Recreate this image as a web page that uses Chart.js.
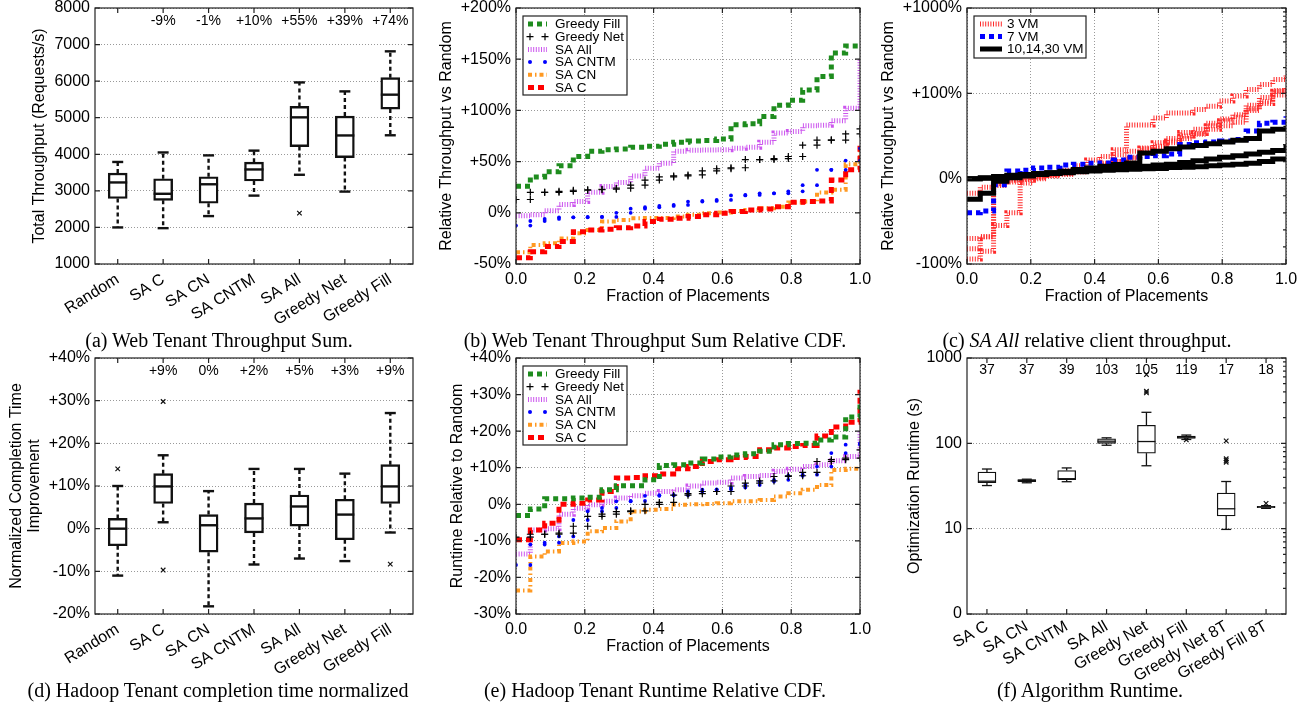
<!DOCTYPE html>
<html>
<head>
<meta charset="utf-8">
<script src="https://cdn.jsdelivr.net/npm/chart.js@4.4.1/dist/chart.umd.min.js"></script>
<style>
  html, body { margin: 0; padding: 0; background: #fff; }
  #fig { position: relative; width: 1308px; height: 704px; overflow: hidden; }
  canvas { position: absolute; }
  .cap { position: absolute; transform: translate(-50%, -50%); white-space: nowrap;
         font: 20px "Liberation Serif", "Times New Roman", serif; color: #000; }
</style>
</head>
<body>
<div id="fig">
  <canvas id="webBox" width="436" height="330" style="left:0;top:0"></canvas>
  <canvas id="webCdf" width="442" height="330" style="left:436px;top:0"></canvas>
  <canvas id="clientCdf" width="430" height="330" style="left:878px;top:0"></canvas>
  <canvas id="hadoopBox" width="436" height="330" style="left:0;top:350px"></canvas>
  <canvas id="hadoopCdf" width="442" height="330" style="left:436px;top:350px"></canvas>
  <canvas id="algoBox" width="430" height="330" style="left:878px;top:350px"></canvas>
  <div class="cap" style="left:219px;top:340px">(a) Web Tenant Throughput Sum.</div>
  <div class="cap" style="left:655px;top:340px">(b) Web Tenant Throughput Sum Relative CDF.</div>
  <div class="cap" style="left:1087px;top:340px">(c) <i>SA All</i> relative client throughput.</div>
  <div class="cap" style="left:218px;top:690px">(d) Hadoop Tenant completion time normalized</div>
  <div class="cap" style="left:655px;top:690px">(e) Hadoop Tenant Runtime Relative CDF.</div>
  <div class="cap" style="left:1090px;top:690px">(f) Algorithm Runtime.</div>
</div>
<script>
// --- (a) web tenant throughput sum (box stats per placement method) ---
const methods = ['Random', 'SA C', 'SA CN', 'SA CNTM', 'SA All', 'Greedy Net', 'Greedy Fill'];
const webMin = [2000, 1980, 2310, 2870, 3440, 2980, 4520];
const webQ1 = [2790, 2740, 2660, 3270, 4210, 3910, 5235];
const webMed = [3230, 2920, 3180, 3585, 5010, 4515, 5630];
const webQ3 = [3485, 3330, 3385, 3785, 5310, 5045, 6095];
const webMax = [3790, 4050, 3970, 4100, 5965, 5720, 6815];
const webOutliers = [{ x: 'SA All', y: 2390 }];
const webGain = ['', '-9%', '-1%', '+10%', '+55%', '+39%', '+74%'];

// --- (d) hadoop completion time improvement (%) ---
const hadMin = [-11, 1.5, -18.2, -8.4, -7, -7.6, -0.9];
const hadQ1 = [-4, 5.9, -5.5, -1, 0.6, -2.6, 5.9];
const hadMed = [0, 9.9, 0.8, 2.4, 5.2, 3.3, 9.9];
const hadQ3 = [2.4, 12.9, 3.3, 6, 7.9, 6.9, 15];
const hadMax = [10, 17.2, 8.8, 14, 14, 12.9, 27.1];
const hadOutliers = [{ x: 'Random', y: 14 }, { x: 'SA C', y: 29.8 }, { x: 'SA C', y: -9.7 }, { x: 'Greedy Fill', y: -8.3 }];
const hadGain = ['', '+9%', '0%', '+2%', '+5%', '+3%', '+9%'];

// --- (f) optimization runtime (s) ---
const algos = ['SA C', 'SA CN', 'SA CNTM', 'SA All', 'Greedy Net', 'Greedy Fill', 'Greedy Net 8T', 'Greedy Fill 8T'];
const rtMin = [32, 34.5, 35.5, 95, 54.6, 111, 9.8, 17.3];
const rtQ1 = [34.5, 35.5, 37.4, 100, 76.8, 114, 14.1, 17.6];
const rtMed = [36, 36.8, 38.5, 106, 105, 118, 17.1, 18];
const rtQ3 = [46, 37.5, 48, 113, 163, 122, 26.1, 18.3];
const rtMax = [50, 38, 51.5, 116, 231, 125, 35.7, 18.6];
const rtOutliers = [
  { x: 'Greedy Net', y: 390 }, { x: 'Greedy Net', y: 408 }, { x: 'Greedy Net', y: 640 },
  { x: 'Greedy Fill', y: 110 },
  { x: 'Greedy Net 8T', y: 107 }, { x: 'Greedy Net 8T', y: 66 }, { x: 'Greedy Net 8T', y: 63 }, { x: 'Greedy Net 8T', y: 60 },
  { x: 'Greedy Fill 8T', y: 19.8 },
];
const rtMean = ['37', '37', '39', '103', '105', '119', '17', '18'];

// --- (b) web throughput vs random, sorted per placement (24 placements + end) ---
const webGreedyFill = [26, 35, 40, 46, 55, 60, 61.5, 62.4, 64, 65, 67, 69, 70, 70.6, 72, 86, 87, 94, 105, 110, 120, 133, 156, 163, 164];
const webGreedyNet = [13, 20, 20, 21, 22, 22.5, 23, 24, 27, 32, 35, 36, 37, 41, 43, 44, 52, 52, 53, 55, 66, 71, 71, 77, 82];
const webSaAll = [-3, -2, 2, 8, 11, 20, 25.6, 29.5, 36, 43.5, 48.5, 60, 61, 61.3, 61.5, 63, 64, 69, 78, 79.5, 85, 85.6, 90, 102, 150];
const webSaCntm = [-12.5, -8, -6, -4.4, -4.4, -4, -4, 0, 4, 5.4, 6.7, 7.7, 11, 11.6, 12.6, 17, 17.5, 19, 19, 21, 27, 42, 42, 51, 63];
const webSaCn = [-38.6, -31.4, -29.8, -25, -20, -16.7, -8.6, -7, -5.3, -5.2, -5, -3.7, -2, -0.5, 0.2, 1.8, 2.8, 4.4, 6, 10, 11, 19.8, 22.4, 47.5, 60];
const webSaC = [-43.8, -38, -33, -28, -18.4, -16.7, -16, -14.5, -12.8, -8.6, -6.3, -5.3, -3.7, -2, -0.5, 1.2, 2.8, 3.8, 6, 10.3, 11, 11.6, 32, 42, 68];

// --- (c) SA All per-client throughput vs random, by tenant size ---
const vm3a = [-94, -85, -3, 0, 1, 3, 4, 6, 8, 10, 14, 20, 25, 36, 42, 47, 54, 58, 62, 68, 72, 80, 90, 106, 118];
const vm3b = [-82, -68, -8, -4, -1, 1, 3, 5, 8, 12, 18, 28, 32, 35, 38, 44, 50, 53, 58, 62, 66, 86, 95, 108, 116];
const vm3c = [-70, -68, -55, -40, -5, 0, 5, 10, 15, 22, 26, 34, 63, 63, 71, 77, 77, 81, 85, 91, 97, 111, 127, 145, 166];
const vm3d = [-17, -10, -6, -2, 0, 2, 4, 6, 9, 12, 16, 20, 24, 30, 36, 42, 47, 52, 65, 70, 75, 82, 88, 98, 105];
const vm7 = [-40, -38, -7, 9, 10, 12.5, 13.5, 16, 17, 18, 18.5, 22, 25, 26, 27, 29, 40, 42, 43, 44, 46, 56, 65, 66, 73];
const vm10 = [-24, -17, -3, 1, 3, 5, 7, 8.6, 10.6, 12.5, 14.5, 16.5, 18.4, 30, 32, 35, 37, 39, 41, 43, 45, 47, 56, 58, 62];
const vm14 = [0, 1, 2.5, 4, 5, 6, 7, 8, 9, 10, 11, 12, 13, 14.5, 16, 17, 19, 21, 23, 25, 27, 29, 31, 33, 40];
const vm30 = [0, 0.5, 2, 3, 4, 5, 6, 7, 8, 9, 10, 10.5, 11, 11.5, 12, 13, 13.5, 14, 15, 16, 17, 18, 20, 23, 25];
const clientTicks = ['-100%', '0%', '+100%', '+1000%'];

// --- (e) hadoop runtime relative to random ---
const hadGreedyFill = [-3.1, -1.3, 1.5, 1.5, 1.7, 1.9, 4, 5.1, 5.1, 6.7, 10.6, 10.8, 11.3, 12.4, 12.9, 13.5, 13.8, 14.5, 16.3, 16.6, 16.7, 17.6, 18.4, 23.9, 27.7];
const hadGreedyNet = [-9, -8.2, -8.2, -7.9, -6, -3.3, -2.7, -2, -1.8, 0, 0.5, 2.5, 2.9, 3.5, 3.5, 5, 5.8, 6.4, 7.6, 7.8, 8.7, 11.7, 12.2, 12.6, 14.9];
const hadSaAll = [-13.6, -7, -6.7, -2.7, -1.1, -0.1, 0.8, 1.7, 2.3, 3, 3.5, 4, 5, 5.8, 6, 7.2, 7.6, 7.9, 9, 9.6, 10.3, 10.8, 11.9, 13.1, 20];
const hadSaCntm = [-16.6, -11, -10.5, -8.8, -4.3, -1.9, -1, 0.8, 0.9, 2.3, 2.5, 2.5, 3.5, 4, 4.1, 4.6, 5.3, 6.2, 6.7, 7.8, 8.1, 10.3, 14, 16.3, 16.7];
const hadSaCn = [-23.6, -14.3, -12.9, -10.6, -10.2, -7.4, -6.5, -4.7, -2, -1.5, -1.3, -0.1, 0, 0.1, 0.3, 0.8, 0.8, 1.2, 2.1, 3, 4, 5.3, 9.4, 9.7, 10];
const hadSaC = [-9.7, -7, -5.2, 0, 0.3, 1.2, 3.5, 7.2, 7.3, 7.8, 8.3, 9.7, 10.3, 11.7, 12.2, 12.8, 13.1, 14.9, 15.4, 15.8, 16.1, 18.7, 21.1, 22.4, 31.3];

const FONT = '"Liberation Sans", Arial, sans-serif';
Chart.defaults.font.family = FONT;
Chart.defaults.font.size = 16;
Chart.defaults.color = '#000';
Chart.defaults.animation = false;

const GRID = '#999';
const GREEN = '#1e8c1e', MAGENTA = '#cc55ee', BLUE = '#0000ff', ORANGE = '#ff9922', RED = '#ff0000';

const pct = (v) => (v > 0 ? '+' : '') + v + '%';
// step CDF points: value i holds from i/24 until (i+1)/24
const steps = (vals) => vals.map((v, i) => ({ x: i / 24, y: v }));
const corners = (vals) => vals.flatMap((v, i) => (i === 0 ? [{ x: 0, y: v }] : [{ x: i / 24, y: vals[i - 1] }, { x: i / 24, y: v }]));
// (c) axis: linear in [-100%, 100%], log10 above
const symlog = (v) => (v <= 100 ? v / 100 : 1 + Math.log10(v / 100));

// frame + inward tick marks (gnuplot look)
const framePlugin = {
  id: 'frame',
  afterDraw(chart, args, opts) {
    const { ctx, chartArea: a, scales: { x, y } } = chart;
    ctx.save();
    ctx.strokeStyle = '#222';
    ctx.lineWidth = 1.2;
    ctx.setLineDash([]);
    ctx.strokeRect(a.left, a.top, a.right - a.left, a.bottom - a.top);
    ctx.beginPath();
    x.ticks.forEach((t, i) => {
      const px = x.getPixelForTick(i);
      ctx.moveTo(px, a.bottom); ctx.lineTo(px, a.bottom - 5);
      ctx.moveTo(px, a.top); ctx.lineTo(px, a.top + 5);
    });
    y.ticks.forEach((t, i) => {
      const py = y.getPixelForTick(i);
      ctx.moveTo(a.left, py); ctx.lineTo(a.left + 5, py);
      ctx.moveTo(a.right, py); ctx.lineTo(a.right - 5, py);
    });
    (opts.minor || []).forEach((v) => {
      const py = y.getPixelForValue(v);
      ctx.moveTo(a.right, py); ctx.lineTo(a.right - 3, py);
    });
    ctx.stroke();
    ctx.restore();
  },
};

// whiskers, caps and medians for the floating-bar boxes
const whiskerPlugin = {
  id: 'whiskers',
  afterDatasetsDraw(chart, args, o) {
    if (!o.min) return;
    const { ctx, scales: { x, y } } = chart;
    ctx.save();
    ctx.strokeStyle = '#111';
    ctx.lineWidth = o.lw;
    const seg = (x1, y1, x2, y2) => { ctx.beginPath(); ctx.moveTo(x1, y1); ctx.lineTo(x2, y2); ctx.stroke(); };
    o.min.forEach((_, i) => {
      const cx = x.getPixelForValue(i);
      ctx.setLineDash(o.dash);
      seg(cx, y.getPixelForValue(o.q3[i]), cx, y.getPixelForValue(o.max[i]));
      seg(cx, y.getPixelForValue(o.q1[i]), cx, y.getPixelForValue(o.min[i]));
      ctx.setLineDash([]);
      seg(cx - o.cap / 2, y.getPixelForValue(o.max[i]), cx + o.cap / 2, y.getPixelForValue(o.max[i]));
      seg(cx - o.cap / 2, y.getPixelForValue(o.min[i]), cx + o.cap / 2, y.getPixelForValue(o.min[i]));
      seg(cx - o.box / 2, y.getPixelForValue(o.med[i]), cx + o.box / 2, y.getPixelForValue(o.med[i]));
    });
    ctx.restore();
    // per-method annotation row
    ctx.save();
    ctx.font = `14px ${FONT}`;
    ctx.fillStyle = '#000';
    ctx.textAlign = 'center';
    ctx.textBaseline = 'middle';
    o.notes.forEach((t, i) => ctx.fillText(t, x.getPixelForValue(i), chart.chartArea.top + o.noteDy));
    ctx.restore();
  },
};

// boxed legend inside the plot
const boxLegend = {
  id: 'boxLegend',
  afterDraw(chart, args, o) {
    if (!o.rows) return;
    const { ctx, chartArea: a } = chart;
    const bx = a.left + o.dx, by = a.top + o.dy;
    ctx.save();
    ctx.fillStyle = '#fff';
    ctx.fillRect(bx, by, o.w, o.h);
    ctx.strokeStyle = '#222';
    ctx.lineWidth = 1.2;
    ctx.strokeRect(bx, by, o.w, o.h);
    ctx.font = `13.5px ${FONT}`;
    ctx.textBaseline = 'middle';
    o.rows.forEach((r, i) => {
      const ry = by + o.row0 + i * o.step;
      const x1 = bx + o.sx1, x2 = bx + o.sx2;
      ctx.save();
      ctx.strokeStyle = r.color;
      ctx.fillStyle = r.color;
      if (r.mark === 'cross') {
        ctx.lineWidth = 1.2;
        [x1 + 2, x2 - 2].forEach((px) => {
          ctx.beginPath();
          ctx.moveTo(px - 3.5, ry); ctx.lineTo(px + 3.5, ry);
          ctx.moveTo(px, ry - 3.5); ctx.lineTo(px, ry + 3.5);
          ctx.stroke();
        });
      } else if (r.mark === 'dot') {
        [x1 + 2, x2 - 2].forEach((px) => { ctx.beginPath(); ctx.arc(px, ry, 2, 0, Math.PI * 2); ctx.fill(); });
      } else {
        ctx.lineWidth = r.width;
        ctx.setLineDash(r.dash || []);
        ctx.beginPath(); ctx.moveTo(x1, ry); ctx.lineTo(x2, ry); ctx.stroke();
      }
      ctx.restore();
      ctx.fillStyle = '#000';
      ctx.fillText(r.label, bx + o.tx, ry + 0.5);
    });
    ctx.restore();
  },
};

Chart.register(framePlugin, whiskerPlugin, boxLegend);

function yAxis(width, title, titlePad, extra) {
  return {
    position: 'left',
    grid: { color: GRID, drawTicks: false },
    border: { display: false, dash: [1, 2] },
    ticks: { padding: 5 },
    title: { display: true, text: title, padding: { top: titlePad, bottom: 0 } },
    afterFit(s) { s.width = width; s.paddingTop = 0; s.paddingBottom = 0; },
    ...extra,
  };
}

function xFraction() {
  return {
    type: 'linear', min: 0, max: 1,
    grid: { color: GRID, drawTicks: false },
    border: { display: false, dash: [1, 2] },
    ticks: { stepSize: 0.2, padding: 6, maxRotation: 0, callback: (v) => v.toFixed(1) },
    title: { display: true, text: 'Fraction of Placements', padding: { top: 0, bottom: 24 } },
    afterFit(s) { s.height = 66; s.paddingLeft = 0; s.paddingRight = 0; },
  };
}

function xCategory(rot, pad) {
  return {
    type: 'category',
    grid: { display: false, drawTicks: false },
    border: { display: false },
    ticks: { padding: pad, minRotation: rot, maxRotation: rot, autoSkip: false },
    afterFit(s) { s.height = 66; s.paddingLeft = 0; s.paddingRight = 0; },
  };
}

function boxChart(id, labels, st, yScale, rightPad, look) {
  return new Chart(document.getElementById(id), {
    type: 'bar',
    data: {
      labels,
      datasets: [
        {
          type: 'bar', data: st.q1.map((q, i) => [q, st.q3[i]]),
          backgroundColor: '#fff', borderColor: '#111', borderWidth: look.lw, borderSkipped: false,
          barThickness: look.box,
        },
        {
          type: 'line', data: st.out, showLine: false,
          pointStyle: 'crossRot', pointRadius: 3.2, borderColor: '#111', pointBorderWidth: 1.2,
        },
      ],
    },
    options: {
      responsive: false,
      events: [],
      layout: { padding: { left: 0, top: 8, right: rightPad, bottom: 0 } },
      plugins: {
        legend: { display: false }, tooltip: { enabled: false },
        whiskers: { ...st, ...look },
        frame: { minor: look.minor || [] },
      },
      scales: { x: xCategory(look.rot, look.pad), y: yScale },
    },
  });
}

const logMinor = [];
[1, 10, 100].forEach((d) => { for (let k = 2; k <= 9; k++) logMinor.push(d * k); });

// (a)
boxChart('webBox', methods,
  { min: webMin, q1: webQ1, med: webMed, q3: webQ3, max: webMax, out: webOutliers, notes: webGain },
  yAxis(95, 'Total Throughput (Requests/s)', 30.4, { min: 1000, max: 8000, ticks: { padding: 5, stepSize: 1000, callback: (v) => String(v) } }),
  23, { lw: 2.4, box: 19, cap: 11, dash: [4, 3], rot: 32, pad: 6, noteDy: 13 });

// (d)
boxChart('hadoopBox', methods,
  { min: hadMin, q1: hadQ1, med: hadMed, q3: hadQ3, max: hadMax, out: hadOutliers, notes: hadGain },
  yAxis(95, ['Normalized Completion Time', 'Improvement'], 8, {
    min: -20, max: 40, ticks: { padding: 5, stepSize: 10, callback: pct },
    title: { display: true, text: ['Normalized Completion Time', 'Improvement'], padding: { top: 8, bottom: 0 }, font: { size: 16, lineHeight: 1.125 } },
  }),
  23, { lw: 2.4, box: 19, cap: 11, dash: [4, 3], rot: 32, pad: 6, noteDy: 13 });

// (f)
boxChart('algoBox', algos,
  { min: rtMin, q1: rtQ1, med: rtMed, q3: rtQ3, max: rtMax, out: rtOutliers, notes: rtMean },
  yAxis(89, 'Optimization Runtime (s)', 27.4, {
    type: 'logarithmic', min: 1, max: 1000,
    afterBuildTicks(s) { s.ticks = [1, 10, 100, 1000].map((v) => ({ value: v })); },
    ticks: { padding: 5, callback: (v) => (v === 1 ? '0' : String(v)) },
  }),
  22, { lw: 1.3, box: 18, cap: 10, dash: [], rot: 30, pad: 3, noteDy: 12, minor: logMinor });

function lineSet(vals, color, width, dash, map = (v) => v) {
  return {
    data: steps(vals.map(map)), stepped: true, borderColor: color, borderWidth: width, borderDash: dash,
    pointRadius: 0, fill: false,
  };
}
function markSet(vals, kind) {
  return kind === 'cross'
    ? { data: corners(vals), showLine: false, pointStyle: 'cross', pointRadius: 3.5, borderColor: '#000', pointBorderWidth: 1.2 }
    : { data: corners(vals), showLine: false, pointStyle: 'circle', pointRadius: 1.9, backgroundColor: BLUE, borderColor: BLUE, pointBorderWidth: 0 };
}

const algoLegend = [
  { label: 'Greedy Fill', color: GREEN, width: 5, dash: [5, 4] },
  { label: 'Greedy Net', color: '#000', mark: 'cross' },
  { label: 'SA All', color: MAGENTA, width: 5, dash: [1, 1.6] },
  { label: 'SA CNTM', color: BLUE, mark: 'dot' },
  { label: 'SA CN', color: ORANGE, width: 4, dash: [4, 3, 1.5, 3] },
  { label: 'SA C', color: RED, width: 5, dash: [6, 4] },
];
const algoLegendBox = { dx: 7, dy: 8, w: 104, h: 79, row0: 8, step: 12.7, sx1: 5, sx2: 24, tx: 32, rows: algoLegend };

function cdfChart(id, sets, yScale) {
  return new Chart(document.getElementById(id), {
    type: 'line',
    data: {
      datasets: [
        lineSet(sets.fill, GREEN, 5, [5, 4]),
        markSet(sets.net, 'cross'),
        markSet(sets.cntm, 'dot'),
        lineSet(sets.c, RED, 5, [6, 4]),
        lineSet(sets.cn, ORANGE, 4, [4, 3, 1.5, 3]),
        lineSet(sets.all, MAGENTA, 5, [1, 1.6]),
      ],
    },
    options: {
      responsive: false,
      events: [],
      layout: { padding: { left: 0, top: 8, right: 18, bottom: 0 } },
      plugins: { legend: { display: false }, tooltip: { enabled: false }, boxLegend: algoLegendBox },
      scales: { x: xFraction(), y: yScale },
    },
  });
}

// (b)
cdfChart('webCdf',
  { fill: webGreedyFill, net: webGreedyNet, all: webSaAll, cntm: webSaCntm, cn: webSaCn, c: webSaC },
  yAxis(80, 'Relative Throughput vs Random', 1.4, { min: -50, max: 200, ticks: { padding: 5, stepSize: 50, callback: pct } }));

// (e)
cdfChart('hadoopCdf',
  { fill: hadGreedyFill, net: hadGreedyNet, all: hadSaAll, cntm: hadSaCntm, cn: hadSaCn, c: hadSaC },
  yAxis(80, 'Runtime Relative to Random', 12.4, { min: -30, max: 40, ticks: { padding: 5, stepSize: 10, callback: pct } }));

// (c)
const RED3 = '#ff2a2a';
const clientMinor = [-0.8, -0.6, -0.4, -0.2, 0.2, 0.4, 0.6, 0.8];
for (let k = 2; k <= 9; k++) clientMinor.push(1 + Math.log10(k));
new Chart(document.getElementById('clientCdf'), {
  type: 'line',
  data: {
    datasets: [
      lineSet(vm10, '#000', 5, [], symlog),
      lineSet(vm14, '#000', 5, [], symlog),
      lineSet(vm30, '#000', 5, [], symlog),
      lineSet(vm7, BLUE, 5, [5, 4], symlog),
      lineSet(vm3a, RED3, 5, [1, 1.6], symlog),
      lineSet(vm3b, RED3, 5, [1, 1.6], symlog),
      lineSet(vm3c, RED3, 5, [1, 1.6], symlog),
      lineSet(vm3d, RED3, 5, [1, 1.6], symlog),
    ],
  },
  options: {
    responsive: false,
    events: [],
    layout: { padding: { left: 0, top: 8, right: 22, bottom: 0 } },
    plugins: {
      legend: { display: false }, tooltip: { enabled: false },
      frame: { minor: clientMinor },
      boxLegend: {
        dx: 7, dy: 8, w: 112, h: 42, row0: 8, step: 12.5, sx1: 6, sx2: 28, tx: 33,
        rows: [
          { label: '3 VM', color: RED3, width: 5, dash: [1, 1.6] },
          { label: '7 VM', color: BLUE, width: 5, dash: [5, 4] },
          { label: '10,14,30 VM', color: '#000', width: 5, dash: [] },
        ],
      },
    },
    scales: {
      x: xFraction(),
      y: yAxis(89, 'Relative Throughput vs Random', 1.4, {
        min: -1, max: 2, ticks: { padding: 5, stepSize: 1, callback: (v) => clientTicks[v + 1] },
      }),
    },
  },
});
</script>
</body>
</html>
